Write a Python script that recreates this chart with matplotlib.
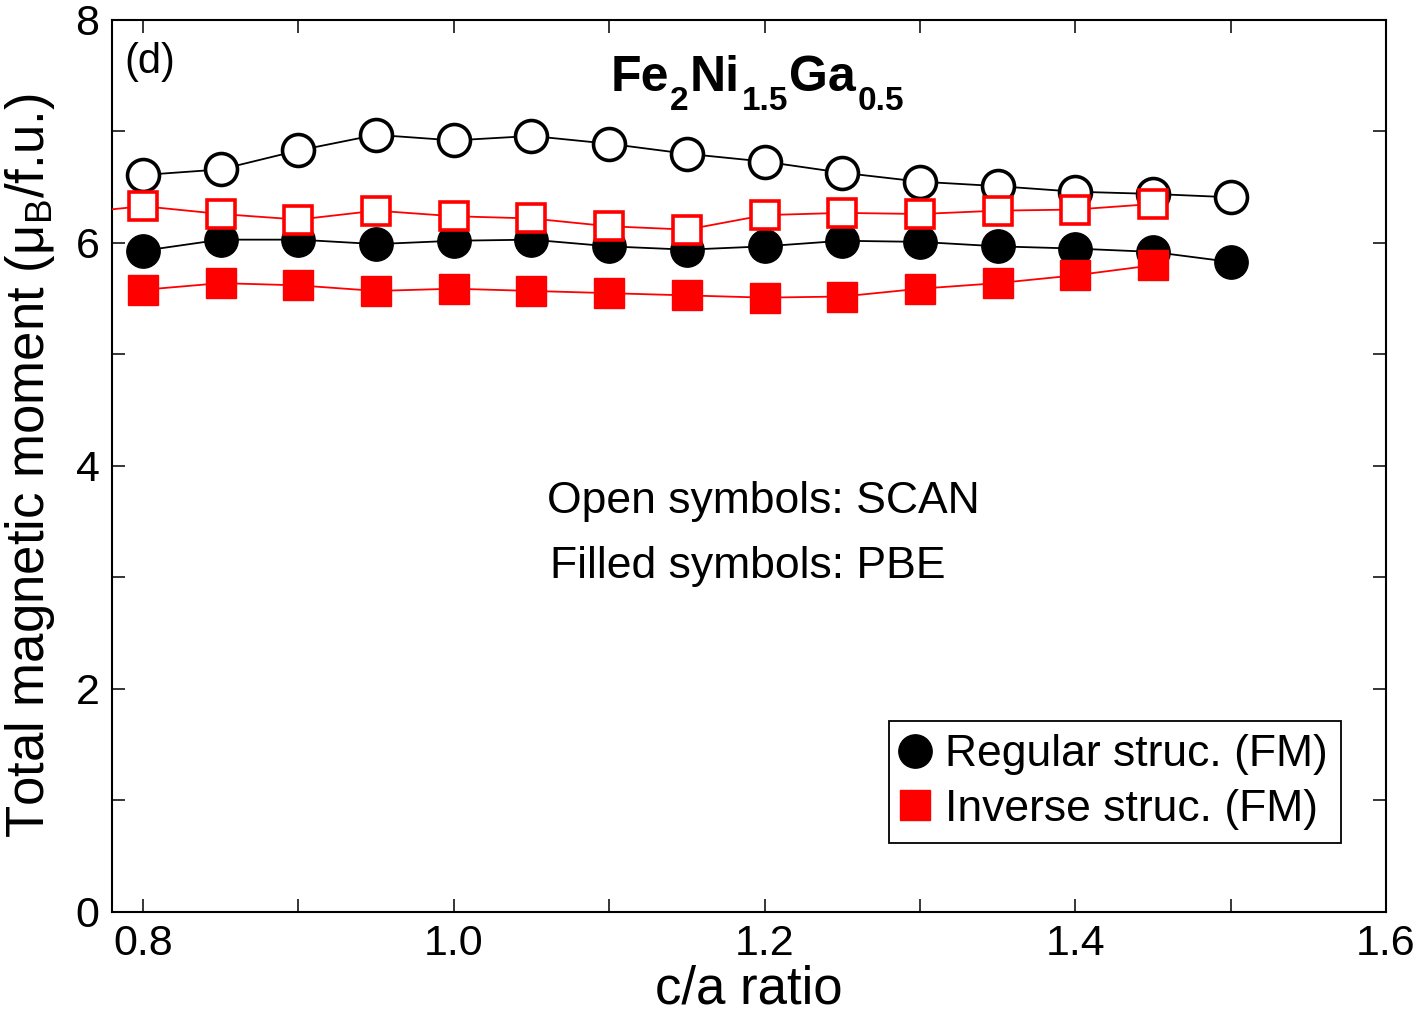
import matplotlib
matplotlib.use('Agg')
import matplotlib.pyplot as plt
from matplotlib.lines import Line2D
from matplotlib.ticker import MultipleLocator, FormatStrFormatter

plt.rcParams['font.family'] = ['Liberation Sans', 'DejaVu Sans']
plt.rcParams['mathtext.fontset'] = 'custom'
plt.rcParams['mathtext.rm'] = 'Liberation Sans'
plt.rcParams['mathtext.it'] = 'Liberation Sans:italic'
plt.rcParams['mathtext.bf'] = 'Liberation Sans:bold'
plt.rcParams['mathtext.default'] = 'regular'

# c/a ratio
ca = [0.8, 0.85, 0.9, 0.95, 1.0, 1.05, 1.1, 1.15, 1.2, 1.25, 1.3, 1.35, 1.4, 1.45, 1.5]
ca_inv = [0.75, 0.8, 0.85, 0.9, 0.95, 1.0, 1.05, 1.1, 1.15, 1.2, 1.25, 1.3, 1.35, 1.4, 1.45]
ca_inv_pbe = [0.8, 0.85, 0.9, 0.95, 1.0, 1.05, 1.1, 1.15, 1.2, 1.25, 1.3, 1.35, 1.4, 1.45]

# total moments (muB / f.u.)
reg_scan = [6.61, 6.66, 6.83, 6.97, 6.92, 6.96, 6.89, 6.80, 6.73, 6.63, 6.55, 6.51, 6.46, 6.44, 6.41]
reg_pbe = [5.93, 6.03, 6.03, 5.99, 6.02, 6.03, 5.97, 5.94, 5.97, 6.02, 6.01, 5.97, 5.95, 5.92, 5.83]
inv_scan = [6.26, 6.33, 6.26, 6.21, 6.29, 6.24, 6.22, 6.15, 6.12, 6.25, 6.27, 6.26, 6.29, 6.30, 6.35]
inv_pbe = [5.58, 5.64, 5.62, 5.57, 5.59, 5.57, 5.55, 5.53, 5.51, 5.52, 5.59, 5.64, 5.71, 5.80]

fig = plt.figure(figsize=(14.21, 10.15), dpi=100)
ax = fig.add_axes([0.0788, 0.1015, 0.8966, 0.8788])

ax.plot(ca, reg_pbe, '-o', color='black', lw=1.3, ms=24, mfc='black', mec='black', zorder=3)
ax.plot(ca, reg_scan, '-o', color='black', lw=1.3, ms=23, mfc='white', mec='black', mew=2.6, zorder=3)
ax.plot(ca_inv_pbe, inv_pbe, '-s', color='red', lw=1.3, ms=21, mfc='red', mec='red', zorder=4)
ax.plot(ca_inv, inv_scan, '-s', color='red', lw=1.3, ms=19.5, mfc='white', mec='red', mew=2.6, zorder=4)

ax.set_xlim(0.78, 1.6)
ax.set_ylim(0, 8)
ax.xaxis.set_major_locator(MultipleLocator(0.2))
ax.xaxis.set_minor_locator(MultipleLocator(0.1))
ax.yaxis.set_major_locator(MultipleLocator(2))
ax.yaxis.set_minor_locator(MultipleLocator(1))
ax.xaxis.set_major_formatter(FormatStrFormatter('%.1f'))
ax.tick_params(which='both', direction='in', top=True, right=True, length=9.5, width=1.1,
               labelsize=31, pad=9)
for s in ax.spines.values():
    s.set_linewidth(1.5)

ax.set_xlabel('c/a ratio', fontsize=38, labelpad=0)
ax.set_ylabel('Total magnetic moment (μ$_B$/f.u.)', fontsize=38, labelpad=13)

ax.text(0.01, 0.975, '(d)', transform=ax.transAxes, fontsize=30, va='top', ha='left')

# title built piece by piece so the subscripts can be large
pieces = [('Fe', 0), ('2', -1), ('Ni', 1), ('1.5', -1), ('Ga', 1), ('0.5', -1)]
prev = None
for txt, shift in pieces:
    size = 36 if shift >= 0 else 24
    if prev is None:
        prev = ax.text(0.391, 0.9097, txt, transform=ax.transAxes, fontsize=size,
                       fontweight='bold', ha='left', va='bottom')
    else:
        prev = ax.annotate(txt, xy=(1, 0), xycoords=prev, xytext=(1, 12 * shift),
                           textcoords='offset points', fontsize=size, fontweight='bold',
                           ha='left', va='bottom')

ax.text(1.06, 3.68, 'Open symbols: SCAN', fontsize=32, ha='left', va='center')
ax.text(1.062, 3.10, 'Filled symbols: PBE', fontsize=32, ha='left', va='center')

handles = [Line2D([], [], ls='none', marker='o', ms=24, color='black'),
           Line2D([], [], ls='none', marker='s', ms=21, color='red')]
leg = ax.legend(handles, ['Regular struc. (FM)', 'Inverse struc. (FM)'], loc='lower right',
                bbox_to_anchor=(0.9647, 0.0774), borderaxespad=0, fontsize=32,
                fancybox=False, edgecolor='black', framealpha=1, handlelength=0.55,
                handletextpad=0.4, borderpad=0.3, labelspacing=0.3)
leg.get_frame().set_linewidth(1.3)

fig.savefig('out.png', dpi=100)
